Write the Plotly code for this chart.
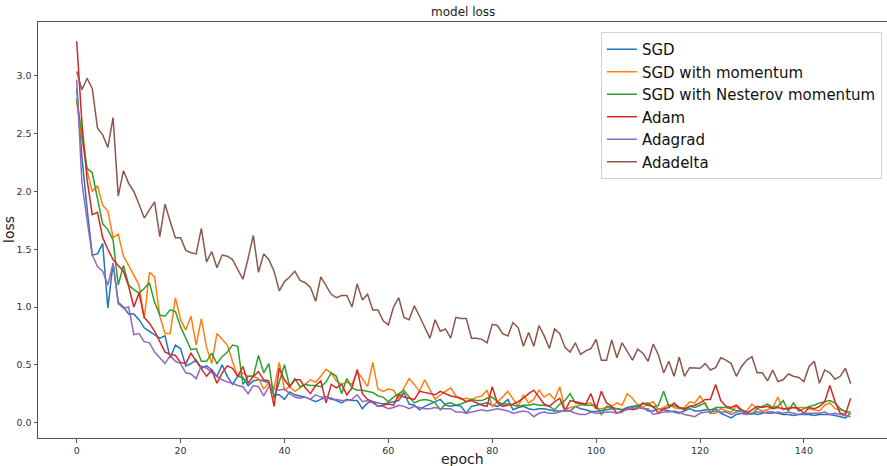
import plotly.graph_objects as go

epochs = list(range(150))

sgd = [2.89, 2.30, 1.85, 1.45, 1.46, 1.55, 0.99, 1.38, 1.04, 1.00,
       0.94, 0.94, 0.89, 0.82, 0.79, 0.76, 0.73, 0.75, 0.56, 0.67,
       0.64, 0.49, 0.51, 0.54, 0.47, 0.49, 0.455, 0.40, 0.50, 0.40,
       0.33, 0.40, 0.39, 0.32, 0.36, 0.37, 0.36, 0.34, 0.24, 0.24,
       0.20, 0.265, 0.24, 0.23, 0.22, 0.20, 0.18, 0.20, 0.22, 0.21,
       0.19, 0.17, 0.20, 0.19, 0.19, 0.12, 0.17, 0.18, 0.17, 0.16,
       0.17, 0.18, 0.19, 0.26, 0.16, 0.15, 0.11, 0.14, 0.16, 0.18,
       0.20, 0.15, 0.14, 0.15, 0.14, 0.08, 0.14, 0.15, 0.16, 0.17,
       0.15, 0.14, 0.16, 0.20, 0.11, 0.13, 0.14, 0.12, 0.11, 0.12,
       0.12, 0.11, 0.10, 0.10, 0.10, 0.10, 0.14, 0.12, 0.11, 0.095,
       0.095, 0.10, 0.11, 0.12, 0.12, 0.11, 0.13, 0.14, 0.14, 0.13,
       0.10, 0.10, 0.12, 0.11, 0.10, 0.09, 0.08, 0.10, 0.12, 0.10,
       0.10, 0.11, 0.11, 0.12, 0.08, 0.06, 0.04, 0.07, 0.08, 0.07,
       0.08, 0.07, 0.08, 0.09, 0.09, 0.08, 0.07, 0.07, 0.06, 0.07,
       0.07, 0.07, 0.06, 0.07, 0.07, 0.07, 0.06, 0.05, 0.04, 0.08]

sgd_momentum = [2.78, 2.45, 2.18, 2.00, 2.05, 1.88, 1.83, 1.60, 1.63, 1.44,
                1.36, 1.28, 1.19, 0.90, 1.30, 1.26, 0.92, 0.77, 0.77, 1.08,
                0.89, 0.80, 0.92, 0.67, 0.90, 0.65, 0.51, 0.77, 0.72, 0.67,
                0.53, 0.40, 0.43, 0.40, 0.40, 0.38, 0.29, 0.34, 0.30, 0.52,
                0.28, 0.31, 0.27, 0.30, 0.33, 0.37, 0.35, 0.40, 0.46, 0.43,
                0.36, 0.33, 0.35, 0.33, 0.44, 0.38, 0.31, 0.52, 0.29, 0.27,
                0.29, 0.28, 0.20, 0.30, 0.38, 0.33, 0.27, 0.37, 0.29, 0.20,
                0.24, 0.27, 0.30, 0.23, 0.20, 0.21, 0.20, 0.22, 0.23, 0.28,
                0.14, 0.18, 0.22, 0.27, 0.20, 0.14, 0.24, 0.17, 0.20, 0.28,
                0.22, 0.25, 0.20, 0.31, 0.11, 0.13, 0.14, 0.15, 0.16, 0.17,
                0.12, 0.12, 0.13, 0.14, 0.17, 0.15, 0.25, 0.21, 0.15, 0.13,
                0.16, 0.18, 0.11, 0.13, 0.16, 0.13, 0.12, 0.13, 0.18, 0.17,
                0.23, 0.16, 0.08, 0.08, 0.12, 0.10, 0.09, 0.14, 0.10, 0.10,
                0.16, 0.12, 0.10, 0.11, 0.13, 0.22, 0.11, 0.13, 0.13, 0.13,
                0.13, 0.12, 0.11, 0.10, 0.15, 0.17, 0.12, 0.11, 0.10, 0.07]

sgd_nesterov = [2.80, 2.50, 2.20, 2.16, 1.93, 1.72, 1.67, 1.58, 1.19, 1.36,
                1.19, 1.15, 1.12, 1.16, 1.21, 1.04, 0.93, 0.92, 0.975, 0.96,
                0.83, 0.73, 0.63, 0.64, 0.53, 0.53, 0.60, 0.51, 0.57, 0.61,
                0.67, 0.66, 0.33, 0.40, 0.40, 0.58, 0.43, 0.51, 0.21, 0.35,
                0.50, 0.31, 0.38, 0.31, 0.33, 0.32, 0.32, 0.31, 0.35, 0.43,
                0.40, 0.25, 0.38, 0.30, 0.28, 0.28, 0.27, 0.26, 0.23, 0.22,
                0.18, 0.22, 0.25, 0.28, 0.22, 0.17, 0.19, 0.20, 0.19, 0.17,
                0.11, 0.16, 0.17, 0.15, 0.16, 0.18, 0.20, 0.19, 0.19, 0.21,
                0.22, 0.18, 0.16, 0.16, 0.15, 0.14, 0.15, 0.15, 0.16, 0.15,
                0.15, 0.14, 0.11, 0.16, 0.19, 0.25, 0.17, 0.16, 0.15, 0.15,
                0.15, 0.07, 0.14, 0.13, 0.12, 0.11, 0.11, 0.13, 0.15, 0.16,
                0.17, 0.13, 0.15, 0.27, 0.14, 0.15, 0.13, 0.11, 0.14, 0.13,
                0.15, 0.17, 0.08, 0.13, 0.13, 0.13, 0.12, 0.10, 0.11, 0.09,
                0.07, 0.12, 0.14, 0.16, 0.13, 0.14, 0.19, 0.10, 0.17, 0.10,
                0.12, 0.14, 0.15, 0.17, 0.18, 0.19, 0.17, 0.12, 0.09, 0.09]

adam = [3.30, 2.60, 2.10, 1.80, 1.82, 1.60, 1.50, 1.41, 1.36, 1.31,
        1.18, 1.00, 1.12, 0.91, 0.86, 0.79, 0.70, 0.61, 0.59, 0.58,
        0.52, 0.51, 0.60, 0.53, 0.46, 0.40, 0.455, 0.34, 0.43, 0.49,
        0.47, 0.40, 0.485, 0.34, 0.40, 0.44, 0.37, 0.36, 0.14, 0.47,
        0.37, 0.31, 0.37, 0.37, 0.30, 0.25, 0.32, 0.36, 0.17, 0.33,
        0.30, 0.33, 0.24, 0.30, 0.46, 0.25, 0.20, 0.18, 0.14, 0.15,
        0.16, 0.15, 0.24, 0.22, 0.21, 0.20, 0.27, 0.26, 0.25, 0.24,
        0.27, 0.25, 0.23, 0.22, 0.21, 0.18, 0.19, 0.17, 0.15, 0.14,
        0.31, 0.17, 0.14, 0.15, 0.16, 0.18, 0.21, 0.25, 0.28, 0.22,
        0.16, 0.14, 0.18, 0.21, 0.10, 0.19, 0.18, 0.17, 0.16, 0.25,
        0.12, 0.27, 0.17, 0.14, 0.08, 0.10, 0.12, 0.11, 0.12, 0.17,
        0.15, 0.14, 0.08, 0.12, 0.13, 0.17, 0.13, 0.12, 0.14, 0.15,
        0.17, 0.20, 0.20, 0.33, 0.19, 0.14, 0.13, 0.15, 0.11, 0.08,
        0.11, 0.14, 0.13, 0.14, 0.12, 0.13, 0.12, 0.12, 0.13, 0.12,
        0.08, 0.13, 0.12, 0.14, 0.18, 0.32, 0.18, 0.08, 0.07, 0.21]

adagrad = [2.97, 2.08, 1.75, 1.45, 1.35, 1.31, 1.19, 1.38, 1.03, 0.99,
           1.00, 0.76, 0.77, 0.70, 0.69, 0.61, 0.56, 0.51, 0.58, 0.53,
           0.51, 0.43, 0.42, 0.38, 0.49, 0.47, 0.43, 0.40, 0.37, 0.35,
           0.34, 0.32, 0.31, 0.25, 0.32, 0.31, 0.23, 0.31, 0.29, 0.28,
           0.29, 0.25, 0.22, 0.21, 0.22, 0.20, 0.24, 0.22, 0.22, 0.20,
           0.20, 0.19, 0.19, 0.20, 0.24, 0.18, 0.19, 0.17, 0.14, 0.14,
           0.12, 0.13, 0.15, 0.14, 0.12, 0.14, 0.13, 0.12, 0.12, 0.13,
           0.12, 0.12, 0.12, 0.09, 0.09, 0.08, 0.09, 0.10, 0.11, 0.10,
           0.11, 0.12, 0.11, 0.10, 0.08, 0.09, 0.10, 0.09, 0.05, 0.08,
           0.09, 0.08, 0.08, 0.09, 0.11, 0.10, 0.08, 0.07, 0.07, 0.09,
           0.08, 0.08, 0.09, 0.09, 0.08, 0.09, 0.12, 0.12, 0.13, 0.12,
           0.12, 0.07, 0.08, 0.09, 0.09, 0.10, 0.09, 0.07, 0.06, 0.05,
           0.08, 0.09, 0.09, 0.10, 0.09, 0.09, 0.07, 0.09, 0.10, 0.07,
           0.08, 0.09, 0.09, 0.08, 0.08, 0.09, 0.08, 0.09, 0.08, 0.07,
           0.08, 0.08, 0.08, 0.08, 0.09, 0.07, 0.08, 0.07, 0.06, 0.05]

adadelta = [3.04, 2.88, 2.98, 2.89, 2.55, 2.49, 2.38, 2.64, 1.96, 2.18,
            2.07, 2.00, 1.89, 1.77, 1.84, 1.91, 1.61, 1.89, 1.74, 1.60,
            1.60, 1.49, 1.47, 1.46, 1.68, 1.39, 1.48, 1.34, 1.45, 1.44,
            1.41, 1.32, 1.24, 1.42, 1.62, 1.30, 1.46, 1.41, 1.31, 1.14,
            1.22, 1.26, 1.31, 1.23, 1.21, 1.17, 1.05, 1.26, 1.19, 1.11,
            1.08, 1.10, 1.10, 1.00, 1.20, 1.06, 1.11, 0.975, 0.975, 0.88,
            0.845, 1.00, 1.08, 0.91, 0.89, 1.01, 0.92, 0.82, 0.73, 0.89,
            0.79, 0.81, 0.73, 0.91, 0.90, 0.90, 0.73, 0.73, 0.72, 0.69,
            0.85, 0.84, 0.77, 0.75, 0.865, 0.82, 0.66, 0.78, 0.66, 0.84,
            0.75, 0.64, 0.81, 0.77, 0.65, 0.61, 0.69, 0.59, 0.62, 0.64,
            0.72, 0.54, 0.54, 0.715, 0.56, 0.69, 0.62, 0.54, 0.635, 0.60,
            0.53, 0.68, 0.585, 0.43, 0.53, 0.40, 0.565, 0.40, 0.475, 0.475,
            0.47, 0.51, 0.455, 0.475, 0.56, 0.54, 0.51, 0.40, 0.485, 0.54,
            0.57, 0.43, 0.43, 0.36, 0.455, 0.355, 0.37, 0.42, 0.40, 0.39,
            0.355, 0.485, 0.53, 0.34, 0.455, 0.43, 0.375, 0.40, 0.47, 0.335]

series_names = ["SGD", "SGD with momentum", "SGD with Nesterov momentum",
                "Adam", "Adagrad", "Adadelta"]
series_values = [sgd, sgd_momentum, sgd_nesterov, adam, adagrad, adadelta]
colors = ["#1f77b4", "#ff7f0e", "#2ca02c", "#d62728", "#9467bd", "#8c564b"]

x_ticks = [0, 20, 40, 60, 80, 100, 120, 140]
y_ticks = [0.0, 0.5, 1.0, 1.5, 2.0, 2.5, 3.0]

fig = go.Figure()
for name, vals, c in zip(series_names, series_values, colors):
    fig.add_trace(go.Scatter(x=epochs, y=vals, mode="lines", name=name,
                             line=dict(color=c, width=1.5)))

font_family = "DejaVu Sans"
fig.update_layout(
    width=887, height=466,
    margin=dict(l=38, r=0, t=22, b=28),
    paper_bgcolor="white", plot_bgcolor="white",
    font=dict(family=font_family, color="#222"),
    showlegend=True,
    legend=dict(x=0.994, y=0.976, xanchor="right", yanchor="top",
                bgcolor="rgba(255,255,255,0.85)", bordercolor="#d0d0d0",
                borderwidth=1, font=dict(size=15, family=font_family, color="#111"),
                tracegroupgap=0),
    annotations=[
        dict(text="model loss", x=0.5, y=1, xref="paper", yref="paper",
             xanchor="center", yanchor="bottom", yshift=1, showarrow=False,
             font=dict(size=12, family=font_family, color="#222")),
        dict(text="epoch", x=0.5, y=0, xref="paper", yref="paper",
             xanchor="center", yanchor="top", yshift=-11, showarrow=False,
             font=dict(size=14, family=font_family, color="#222")),
        dict(text="loss", x=0, y=0.5, xref="paper", yref="paper",
             xanchor="right", yanchor="middle", xshift=-19, textangle=-90,
             showarrow=False,
             font=dict(size=14, family=font_family, color="#222")),
    ],
)
fig.update_xaxes(range=[-7.45, 156.0], tickvals=x_ticks,
                 ticktext=[str(t) for t in x_ticks],
                 showgrid=False, zeroline=False, showline=True,
                 linecolor="#555", linewidth=1, mirror=True,
                 ticks="outside", ticklen=3.5, tickcolor="#555",
                 tickfont=dict(size=9.5, color="#333"))
fig.update_yaxes(range=[-0.134, 3.467], tickvals=y_ticks,
                 ticktext=[f"{t:.1f}" for t in y_ticks],
                 showgrid=False, zeroline=False, showline=True,
                 linecolor="#555", linewidth=1,
                 ticks="outside", ticklen=3.5, tickcolor="#555",
                 tickfont=dict(size=9.5, color="#333"))

fig.write_html("out.html")
